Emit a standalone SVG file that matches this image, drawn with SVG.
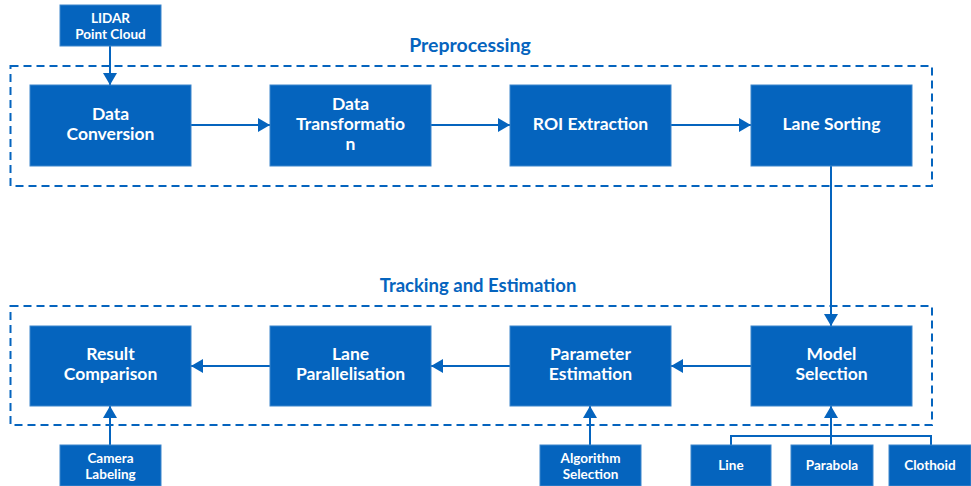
<svg xmlns="http://www.w3.org/2000/svg" width="971" height="486" viewBox="0 0 971 486">
<style>
.box{fill:#0564BE;stroke:#3D86CC;stroke-width:1}
.t{font-family:Lato,"Open Sans","Liberation Sans",sans-serif;font-weight:bold;fill:#fff;text-anchor:middle}
.big{font-size:17.5px}
.sm{font-size:13.5px}
.title{font-family:Lato,"Open Sans","Liberation Sans",sans-serif;font-weight:bold;fill:#0564BE;font-size:19.5px;text-anchor:middle}
.grp{fill:none;stroke:#0564BE;stroke-width:2;stroke-dasharray:8 5}
.c{fill:none;stroke:#0564BE;stroke-width:2}
</style>
<defs>
<marker id="ah" viewBox="0 0 12 14" refX="12" refY="7" markerWidth="12" markerHeight="14" markerUnits="userSpaceOnUse" orient="auto">
<path d="M0,0 L12,7 L0,14 Z" fill="#0564BE"/>
</marker>
</defs>
<rect x="0" y="0" width="971" height="486" fill="#fff"/>
<g id="groups">
<rect class="grp" x="10.5" y="66" width="921.5" height="120"/>
<rect class="grp" x="10.5" y="306" width="921.5" height="119"/>
<text class="title" x="470" y="52">Preprocessing</text>
<text class="title" x="478" y="292" style="font-size:18.5px">Tracking and Estimation</text>
</g>
<g id="connectors">
<line class="c" x1="110" y1="46" x2="110" y2="85" marker-end="url(#ah)"/>
<line class="c" x1="191" y1="125" x2="270" y2="125" marker-end="url(#ah)"/>
<line class="c" x1="431" y1="125" x2="510" y2="125" marker-end="url(#ah)"/>
<line class="c" x1="671" y1="125" x2="751" y2="125" marker-end="url(#ah)"/>
<line class="c" x1="831" y1="166" x2="831" y2="326" marker-end="url(#ah)"/>
<line class="c" x1="751" y1="366" x2="671" y2="366" marker-end="url(#ah)"/>
<line class="c" x1="510" y1="366" x2="431" y2="366" marker-end="url(#ah)"/>
<line class="c" x1="270" y1="366" x2="191" y2="366" marker-end="url(#ah)"/>
<line class="c" x1="110" y1="445" x2="110" y2="406" marker-end="url(#ah)"/>
<line class="c" x1="590" y1="445" x2="590" y2="406" marker-end="url(#ah)"/>
<line class="c" x1="831" y1="445" x2="831" y2="406" marker-end="url(#ah)"/>
<polyline class="c" points="731,445 731,436 931,436 931,445"/>
</g>
<g id="lidar"><rect class="box" x="60" y="5" width="101" height="41"/><text class="t sm" x="110.5" y="23">LIDAR</text><text class="t sm" x="110.5" y="38.5">Point Cloud</text></g>
<g id="data-conversion"><rect class="box" x="30" y="85" width="161" height="81"/><text class="t big" x="110.5" y="120">Data</text><text class="t big" x="110.5" y="140">Conversion</text></g>
<g id="data-transformation"><rect class="box" x="270" y="85" width="161" height="81"/><text class="t big" x="350.5" y="110">Data</text><text class="t big" x="350.5" y="130">Transformatio</text><text class="t big" x="350.5" y="150">n</text></g>
<g id="roi-extraction"><rect class="box" x="510" y="85" width="161" height="81"/><text class="t big" x="590.5" y="130">ROI Extraction</text></g>
<g id="lane-sorting"><rect class="box" x="751" y="85" width="161" height="81"/><text class="t big" x="831.5" y="130">Lane Sorting</text></g>
<g id="result-comparison"><rect class="box" x="30" y="326" width="161" height="80"/><text class="t big" x="110.5" y="360">Result</text><text class="t big" x="110.5" y="380">Comparison</text></g>
<g id="lane-parallelisation"><rect class="box" x="270" y="326" width="161" height="80"/><text class="t big" x="350.5" y="360">Lane</text><text class="t big" x="350.5" y="380">Parallelisation</text></g>
<g id="parameter-estimation"><rect class="box" x="510" y="326" width="161" height="80"/><text class="t big" x="590.5" y="360">Parameter</text><text class="t big" x="590.5" y="380">Estimation</text></g>
<g id="model-selection"><rect class="box" x="751" y="326" width="161" height="80"/><text class="t big" x="831.5" y="360">Model</text><text class="t big" x="831.5" y="380">Selection</text></g>
<g id="camera-labeling"><rect class="box" x="60" y="445" width="101" height="41"/><text class="t sm" x="110.5" y="463">Camera</text><text class="t sm" x="110.5" y="478.5">Labeling</text></g>
<g id="algorithm-selection"><rect class="box" x="540" y="445" width="101" height="41"/><text class="t sm" x="590.5" y="463">Algorithm</text><text class="t sm" x="590.5" y="478.5">Selection</text></g>
<g id="line"><rect class="box" x="691" y="445" width="80" height="41"/><text class="t sm" x="731" y="469.5">Line</text></g>
<g id="parabola"><rect class="box" x="791" y="445" width="82" height="41"/><text class="t sm" x="832" y="469.5">Parabola</text></g>
<g id="clothoid"><rect class="box" x="889" y="445" width="82" height="41"/><text class="t sm" x="930" y="469.5">Clothoid</text></g>
</svg>
